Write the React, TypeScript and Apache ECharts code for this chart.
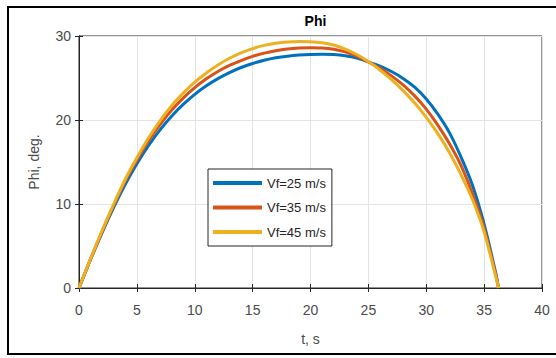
import React, { useEffect, useRef } from "react";
import * as echarts from "echarts";

const tValues = [
  0, 1, 2, 3, 4, 5, 6, 7, 8, 9, 10, 11, 12, 13, 14, 15, 16, 17, 18, 19, 20,
  21, 22, 23, 24, 25, 26, 27, 28, 29, 30, 31, 32, 33, 34, 35, 36, 36.25,
];
const phi25 = [
  0, 3.4, 6.6, 9.6, 12.35, 14.8, 16.95, 18.83, 20.45, 21.85, 23.05, 24.07, 24.93, 25.65, 26.25, 26.73, 27.11, 27.4, 27.6, 27.73, 27.8,
  27.82, 27.79, 27.65, 27.37, 26.92, 26.42, 25.77, 24.95, 23.9, 22.5, 20.7, 18.5, 15.6, 12.2, 7.6, 1.8, 0,
];
const phi35 = [
  0, 3.45, 6.75, 9.85, 12.75, 15.25, 17.5, 19.45, 21.15, 22.6, 23.85, 24.9, 25.78, 26.5, 27.08, 27.58, 27.96, 28.24, 28.44, 28.56, 28.61,
  28.58, 28.43, 28.11, 27.61, 26.91, 26.15, 25.25, 24.17, 22.87, 21.3, 19.4, 17.2, 14.6, 11.2, 7.1, 1.6, 0,
];
const phi45 = [
  0, 3.5, 6.85, 10.0, 12.95, 15.5, 17.85, 19.9, 21.7, 23.2, 24.5, 25.6, 26.55, 27.35, 28.0, 28.5, 28.88, 29.14, 29.3, 29.35, 29.33,
  29.2, 28.92, 28.45, 27.8, 26.95, 25.95, 24.8, 23.5, 22.02, 20.32, 18.37, 16.12, 13.5, 10.5, 6.7, 1.4, 0,
];
const seriesNames = ["Vf=25 m/s", "Vf=35 m/s", "Vf=45 m/s"];
const seriesColors = ["#0072BD", "#D95319", "#EDB120"];
const xTicks = [0, 5, 10, 15, 20, 25, 30, 35, 40];
const yTicks = [0, 10, 20, 30];

export default function App() {
  const ref = useRef<HTMLDivElement>(null);
  useEffect(() => {
    if (!ref.current) return;
    const chart = echarts.init(ref.current, null, { renderer: "svg" });
    const all = [phi25, phi35, phi45];
    const font = "'Liberation Sans', Arial, sans-serif";
    const axisColor = "#262626";
    const labelColor = "#4a4a4a";
    const gridLeft = 79, gridTop = 36, gridW = 463, gridH = 252;
    chart.setOption({
      animation: false,
      backgroundColor: "#ffffff",
      title: {
        text: "Phi",
        left: gridLeft + gridW / 2,
        textAlign: "center",
        top: 9,
        textStyle: { fontFamily: font, fontSize: 14, fontWeight: "bold", color: "#000" },
      },
      legend: {
        orient: "vertical",
        left: 208,
        top: 169,
        data: seriesNames,
        backgroundColor: "#fff",
        borderColor: "#262626",
        borderWidth: 1,
        padding: [7, 6, 7, 5],
        itemGap: 10.5,
        itemWidth: 49,
        itemHeight: 4,
        icon: "rect",
        textStyle: { fontFamily: font, fontSize: 13, lineHeight: 14, color: "#262626" },
      },
      grid: {
        left: gridLeft,
        top: gridTop,
        width: gridW,
        height: gridH,
        show: true,
        borderColor: axisColor,
        borderWidth: 1,
        backgroundColor: "#fff",
      },
      xAxis: [
        {
          type: "value",
          min: 0,
          max: 40,
          interval: 5,
          name: "t, s",
          nameLocation: "middle",
          nameGap: 44,
          nameTextStyle: { fontFamily: font, fontSize: 14, color: labelColor },
          axisLine: { show: true, lineStyle: { color: axisColor } },
          axisTick: { show: true, inside: true, length: 4, lineStyle: { color: axisColor } },
          axisLabel: {
            fontFamily: font,
            fontSize: 14,
            color: labelColor,
            margin: 15,
            formatter: (v: number) => (xTicks.includes(v) ? String(v) : ""),
          },
          splitLine: { show: true, lineStyle: { color: "#e3e3e3" } },
        },
        {
          type: "value",
          position: "top",
          min: 0,
          max: 40,
          interval: 5,
          axisLine: { show: true, lineStyle: { color: axisColor } },
          axisTick: { show: true, inside: true, length: 4, lineStyle: { color: axisColor } },
          axisLabel: { show: false },
          splitLine: { show: false },
        },
      ],
      yAxis: [
        {
          type: "value",
          min: 0,
          max: 30,
          interval: 10,
          name: "Phi, deg.",
          nameLocation: "middle",
          nameGap: 38,
          nameRotate: 90,
          nameTextStyle: { fontFamily: font, fontSize: 14, color: labelColor },
          axisLine: { show: true, lineStyle: { color: axisColor } },
          axisTick: { show: true, inside: true, length: 4, lineStyle: { color: axisColor } },
          axisLabel: {
            fontFamily: font,
            fontSize: 14,
            color: labelColor,
            margin: 8,
            formatter: (v: number) => (yTicks.includes(v) ? String(v) : ""),
          },
          splitLine: { show: true, lineStyle: { color: "#e3e3e3" } },
        },
        {
          type: "value",
          position: "right",
          min: 0,
          max: 30,
          interval: 10,
          axisLine: { show: true, lineStyle: { color: axisColor } },
          axisTick: { show: true, inside: true, length: 4, lineStyle: { color: axisColor } },
          axisLabel: { show: false },
          splitLine: { show: false },
        },
      ],
      series: all.map((vals, i) => ({
        name: seriesNames[i],
        type: "line",
        xAxisIndex: 0,
        yAxisIndex: 0,
        data: tValues.map((t, j) => [t, vals[j]]),
        smooth: 0.2,
        showSymbol: false,
        symbol: "none",
        color: seriesColors[i],
        lineStyle: { width: 3, color: seriesColors[i] },
        z: 2 + i,
      })),
      graphic: [
        {
          type: "rect",
          shape: { x: 8, y: 7, width: 560, height: 347 },
          style: { fill: "none", stroke: "#000", lineWidth: 2 },
          silent: true,
          z: 100,
        },
      ],
    });
    return () => chart.dispose();
  }, []);
  return (
    <div
      ref={ref}
      style={{ position: "fixed", left: 0, top: 0, width: 556, height: 358 }}
    />
  );
}
